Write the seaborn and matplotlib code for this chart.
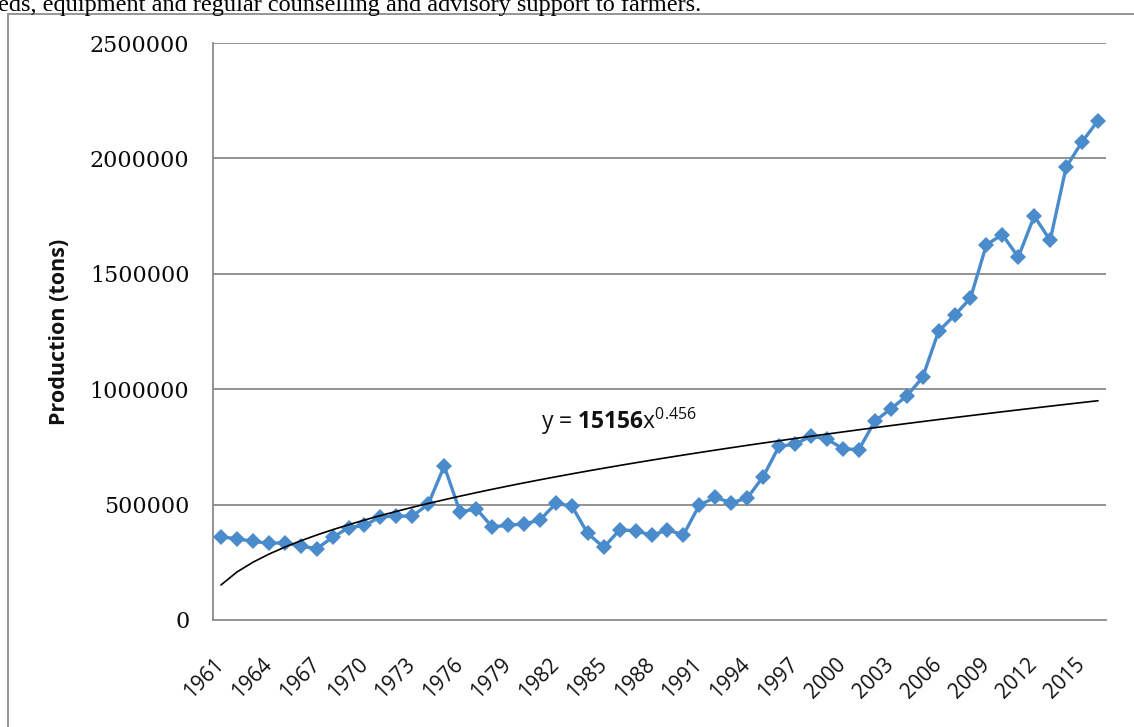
import numpy as np
import pandas as pd
import matplotlib
matplotlib.use("Agg")
import matplotlib.pyplot as plt
from matplotlib.patches import Rectangle
import seaborn as sns

# ---- data ----
years = list(range(1961, 2017))
production = [
    360000, 352000, 341000, 332000, 335000, 320000, 309000, 358000, 400000, 410000,
    447000, 450000, 450000, 502000, 667000, 467000, 483000, 404000, 410000, 416000,
    433000, 505000, 494000, 375000, 315000, 390000, 387000, 367000, 390000, 369000,
    498000, 531000, 508000, 528000, 621000, 753000, 761000, 797000, 784000, 742000,
    738000, 861000, 915000, 970000, 1051000, 1251000, 1320000, 1394000, 1626000, 1670000,
    1572000, 1750000, 1645000, 1962000, 2072000, 2164000,
]
tick_years = list(range(1961, 2016, 3))
y_ticks = [0, 500000, 1000000, 1500000, 2000000, 2500000]
trend_coef = 151560
trend_exp = 0.456
trend_label_coef = "15156"
trend_label_exp = "0.456"
caption = "eds, equipment and regular counselling and advisory support to farmers."
y_title = "Production (tons)"

df = pd.DataFrame({"year": years, "production": production})
trend_x = np.arange(1, len(years) + 1)
trend_df = pd.DataFrame({"year": years, "trend": trend_coef * trend_x ** trend_exp})

sns.set_theme(style="white")
plt.rcParams["font.family"] = ["Open Sans", "DejaVu Sans"]
plt.rcParams["mathtext.fontset"] = "custom"
plt.rcParams["mathtext.rm"] = "Open Sans"
plt.rcParams["mathtext.bf"] = "Open Sans:bold"
plt.rcParams["mathtext.it"] = "Open Sans"

W, H = 1134, 727
fig = plt.figure(figsize=(W / 100, H / 100), dpi=100)
fig.patch.set_facecolor("white")

# outer chart frame
fig.patches.append(Rectangle((8 / W, -0.05), 1.2, 1 - 14 / H + 0.05,
                             transform=fig.transFigure, fill=False,
                             edgecolor="#8c8c8c", linewidth=1.3))
# clipped caption from surrounding text
fig.text(-2 / W, 1 - 10.5 / H, caption, family="Liberation Serif", fontsize=17.5,
         va="baseline", ha="left", color="black")

ax = fig.add_axes([213 / W, 1 - 620 / H, (1106 - 213) / W, (620 - 43) / H])
ax.set_facecolor("white")

for yt in y_ticks[1:]:
    ax.axhline(yt, color="#8a8a8a", linewidth=1.3, zorder=0)

sns.lineplot(data=df, x="year", y="production", ax=ax, color="#4a8bcc",
             linewidth=2.4, marker="D", markersize=8.5, markeredgewidth=0,
             zorder=3)
sns.lineplot(data=trend_df, x="year", y="trend", ax=ax, color="black",
             linewidth=1.2, zorder=4)

ax.set_xlim(1960.5, 2016.5)
ax.set_ylim(0, 2500000)
ax.set_yticks(y_ticks)
ax.set_yticklabels([str(v) for v in y_ticks], family="DejaVu Serif",
                   fontsize=16, color="#0a0a0a")
ax.set_xticks(tick_years)
ax.set_xticklabels([str(y) for y in tick_years], rotation=45, ha="right",
                   va="center", rotation_mode="anchor", fontsize=15,
                   color="#111111")
ax.tick_params(axis="y", length=0, pad=17)
ax.tick_params(axis="x", length=0, pad=30)
ax.set_xlabel("")
ax.set_ylabel(y_title, fontsize=15.5, fontweight="bold", color="#111111",
              labelpad=14)

for s in ["top", "right"]:
    ax.spines[s].set_visible(False)
for s in ["left", "bottom"]:
    ax.spines[s].set_color("#8a8a8a")
    ax.spines[s].set_linewidth(1.3)

ax.text(1981.1, 830000,
        r"y = $\mathbf{" + trend_label_coef + r"}$x$^{" + trend_label_exp + r"}$",
        fontsize=16.5, color="#111111", ha="left", va="baseline")

fig.savefig("out.png", dpi=100)
